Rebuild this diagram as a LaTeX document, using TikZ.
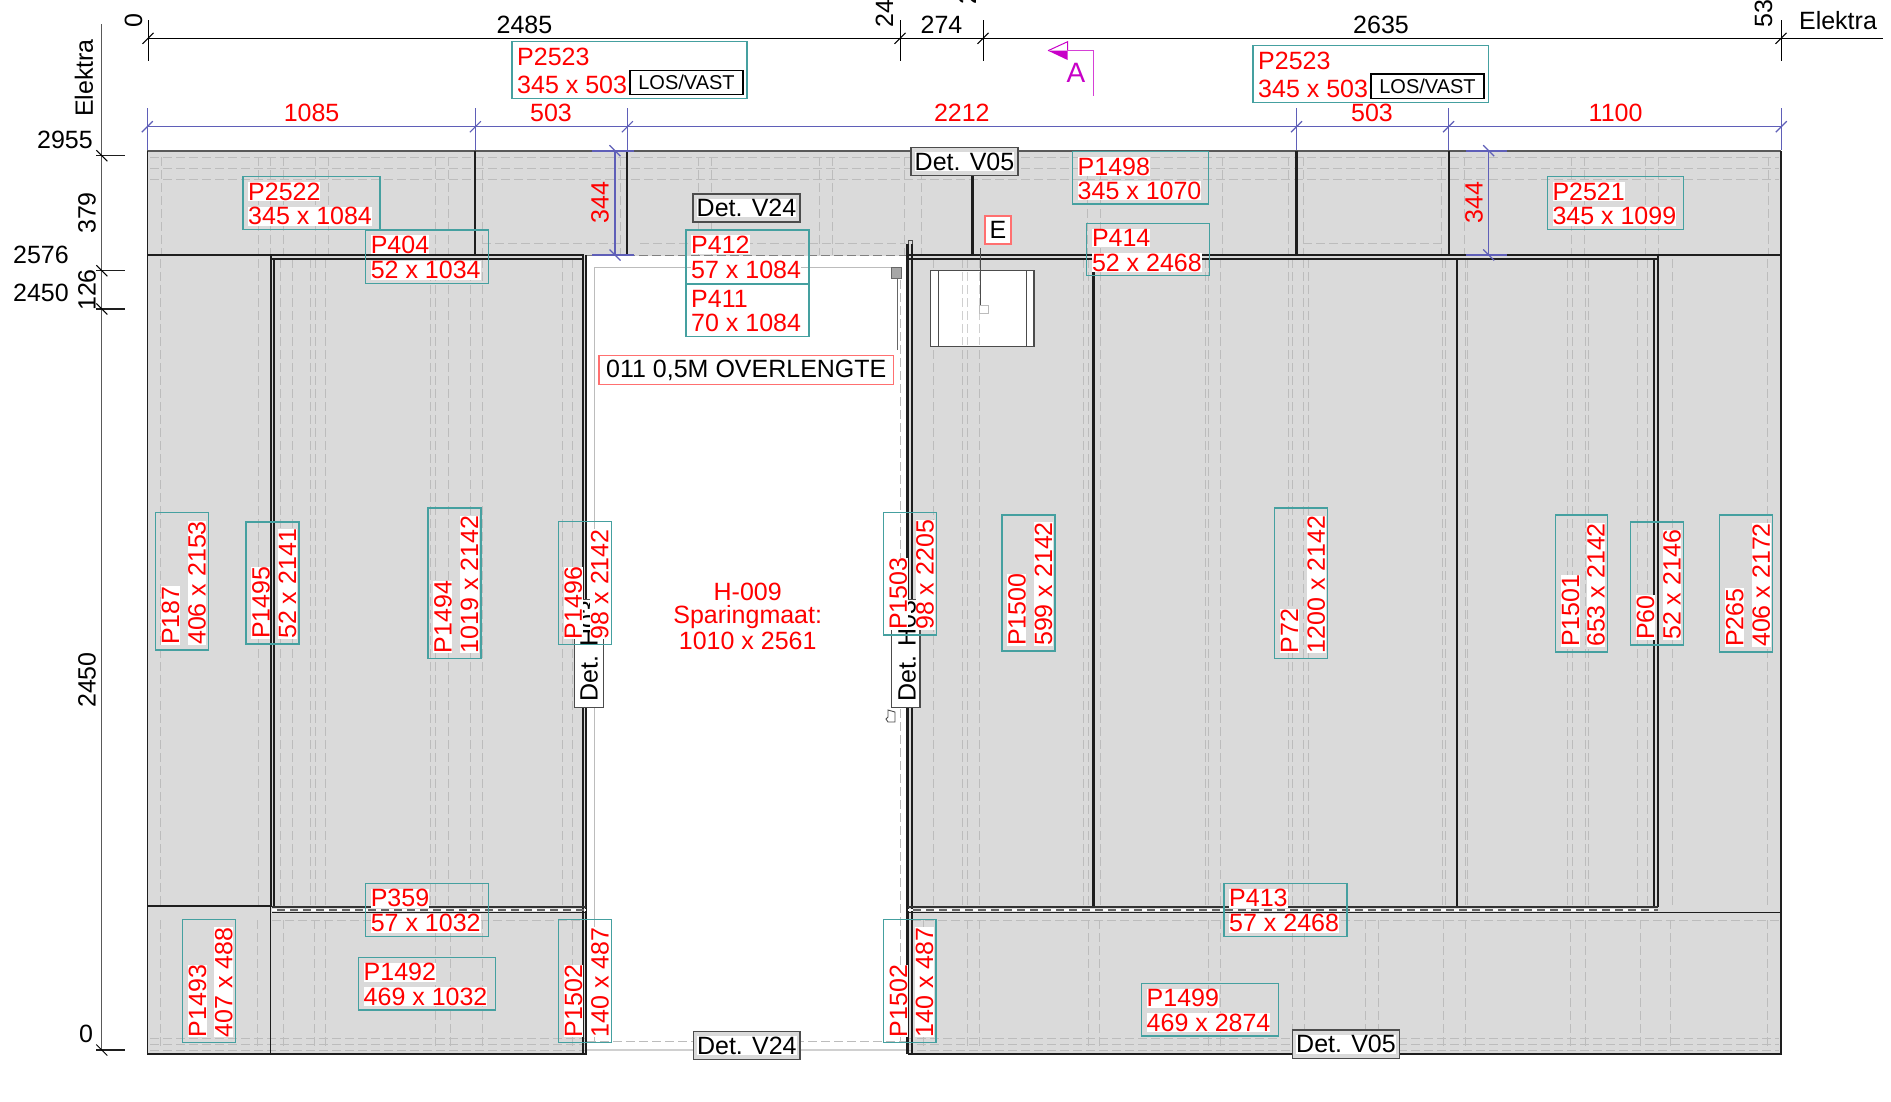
\documentclass[tikz,border=0pt]{standalone}
\usepackage{fontspec}
\usepackage{graphicx}
\setmainfont{Liberation Sans}
\definecolor{panelgrey}{HTML}{DADADA}
\definecolor{dashgrey}{HTML}{BCBCBC}
\definecolor{tealb}{HTML}{45A0A0}
\definecolor{dimblue}{HTML}{5F5FB8}
\definecolor{redb}{HTML}{FF7070}
\definecolor{inkline}{HTML}{1E1E1E}
\definecolor{magA}{HTML}{C800C8}
\tikzset{
  base font/.style={font=\fontsize{25}{27}\selectfont,inner sep=0pt},
  redtxt/.style={base font,text=red},
  redbg/.style={base font,text=red,fill=white,inner ysep=0.6pt},
  blacktxt/.style={base font,text=black},
  blackbg/.style={base font,text=black,fill=white,inner ysep=0.6pt},
  tealbox/.style={draw=tealb,line width=1.3pt},
  inkthin/.style={draw=inkline,line width=1.3pt},
  inkmid/.style={draw=inkline,line width=2.1pt},
  dimblack/.style={draw=black,line width=1pt},
  dimgrey/.style={draw=black!65,line width=1pt},
  dimb/.style={draw=dimblue,line width=1.2pt},
  dash line/.style={draw=dashgrey,line width=1pt,dash pattern=on 8.5pt off 4.5pt},
}
% name x1 y1 x2 y2 line1 line2
\newcommand{\plabH}[7]{%
  \draw[tealbox] (#2,#3) rectangle (#4,#5);
  \node[redbg,anchor=base west] (#1a) at ({#2+5},{#3+14.5+9}) {#6};
  \node[redbg,anchor=base west] (#1b) at ({#2+5},{#5-13.5+9}) {#7};
}
\newcommand{\plabV}[7]{%
  \draw[tealbox] (#2,#3) rectangle (#4,#5);
  \node[redbg,rotate=90,anchor=base west] (#1a) at ({#2+14.5+9},{#5-5}) {#6};
  \node[redbg,rotate=90,anchor=base west] (#1b) at ({#4-12+9},{#5-5}) {#7};
}
\newcommand{\detbox}[6]{%
  \draw[draw=black!70,line width=1.4pt,fill=panelgrey] (#2,#3) rectangle (#4,#5);
  \node[blackbg] (#1) at ({(#2+#4)/2},{(#3+#5)/2}) {#6};
}
\newcommand{\dimslash}[3][dimblack]{\draw[#1] ({#2-5.5},{#3+5.5}) -- ({#2+5.5},{#3-5.5});}
\newcommand{\dimback}[3][dimblack]{\draw[#1] ({#2-5.5},{#3-5.5}) -- ({#2+5.5},{#3+5.5});}
\begin{document}
\begin{tikzpicture}[x=1pt,y=-1pt]
\useasboundingbox (0,0) rectangle (1891,1101);
\clip (0,0) rectangle (1891,1101);
\fill[white] (0,0) rectangle (1891,1101);
% panel
\fill[panelgrey] (147.3,150.7) rectangle (1781,1054);
% dashed inner lines: top band
\foreach \yy in {157,168,179}{\draw[dash line] (150,\yy) -- (1779,\yy);}
\draw[dash line] (482,243) -- (620,243);
\draw[dash line] (640,243) -- (906,243);
\draw[dash line] (1303,243) -- (1442,243);
\foreach \xx in {161,258,270,283,315,328,435,448,482,620,698,711,819,832,904,921,1087,1100,1222,1288,1303,1441,1464,1571,1584,1645,1658,1768}{
  \draw[dash line] (\xx,157) -- (\xx,255);}
% body verticals
\foreach \xx in {160,258,280,292,310,315,325,430,435,448,470,482,562,572,933,962,967,979,1083,1088,1100,1205,1208,1220,1288,1292,1303,1308,1442,1445,1465,1467,1567,1572,1585,1588,1637,1647,1672,1767}{
  \draw[dash line] (\xx,259) -- (\xx,907);}
% bottom band
\foreach \xx in {160,257,283,314,325,435,450,482,572,923,967,979,1088,1099,1208,1220,1292,1304,1365,1378,1443,1465,1570,1585,1640,1670,1767}{
  \draw[dash line] (\xx,920) -- (\xx,1050);}
\draw[dash line] (272,920) -- (584,920);
\draw[dash line] (912,920) -- (1779,920);
\foreach \yy in {1038,1044,1050}{\draw[dash line] (150,\yy) -- (1779,\yy);}
% door opening
\fill[white] (587,256) rectangle (907.5,1058);
\draw[draw=dashgrey,line width=1pt] (594,267) -- (594,1041);
\draw[draw=dashgrey,line width=1pt] (594,267) -- (900,267);
\draw[dash line] (900,267) -- (900,1041);
\draw[dash line,line width=1.2pt] (587,1041.5) -- (907,1041.5);
\draw[draw=dashgrey!70,line width=1.2pt] (587,1050) -- (907,1050);
\draw[dash line,line width=1.4pt,draw=gray] (587,255.5) -- (907,255.5);
% panel outline
\draw[draw=black!65,line width=2.2pt] (147.3,150.7) -- (1781,150.7);
\draw[inkthin] (147.3,150.7) -- (147.3,1054) -- (586.5,1054);
\draw[inkthin] (908,1054) -- (1781,1054) -- (1781,150.7);
% structural lines
\draw[inkthin] (147.3,255) -- (584,255);
\draw[inkthin] (908,255) -- (1781,255);
\draw[inkmid] (270.7,255) -- (270.7,906);
\draw[inkmid] (274.3,259) -- (274.3,906);
\draw[inkmid] (270.7,259) -- (583.5,259);
\draw[inkmid] (907.5,259) -- (1658.3,259);
\draw[inkmid] (583.3,255) -- (583.3,1054);
\draw[inkmid] (586.3,255) -- (586.3,1054);
\draw[inkmid] (907.5,244) -- (907.5,1054);
\draw[inkmid] (911.7,244) -- (911.7,1054);
\draw[inkmid] (1093.5,259) -- (1093.5,907);
\draw[inkmid] (1456.7,259) -- (1456.7,907);
\draw[inkmid] (1654.3,259) -- (1654.3,907);
\draw[inkmid] (1658.3,255) -- (1658.3,907);
\foreach \xx in {475.4,627.4,972.5,1296.5,1448.6}{\draw[inkmid] (\xx,150.7) -- (\xx,255);}
\draw[inkthin] (147.3,906) -- (272,906);
\draw[inkthin] (270.5,906) -- (270.5,1054);
% bottom beams
\draw[draw=black!80,line width=2.4pt] (272,906.7) -- (586,906.7);
\draw[draw=black!80,line width=2.4pt] (908,906.7) -- (1658,906.7);
\draw[draw=black!60,line width=2.4pt] (272,909.8) -- (586,909.8);
\draw[draw=black!60,line width=2.4pt] (908,909.8) -- (1658,909.8);
\draw[draw=white,line width=1.4pt,dash pattern=on 5pt off 8pt] (272,910) -- (586,910);
\draw[draw=white,line width=1.4pt,dash pattern=on 5pt off 8pt] (908,910) -- (1658,910);
\draw[inkthin] (272,912.4) -- (586,912.4);
\draw[inkthin] (908,912.4) -- (1781,912.4);
% window
\draw[draw=black!70,line width=1.3pt,fill=white] (930.5,270.7) rectangle (1034,346.7);
\draw[draw=black!70,line width=1.3pt] (938.6,270.7) -- (938.6,346.7);
\draw[draw=black!70,line width=1.3pt] (1026.5,270.7) -- (1026.5,346.7);
\foreach \xx in {962,967,979}{\draw[dash line,draw=dashgrey!70] (\xx,272) -- (\xx,345);}
\draw[draw=black!70,line width=1.2pt] (980.5,248) -- (980.5,305);
\draw[draw=dashgrey,line width=0.9pt] (979,305) rectangle (988,313);
% small door details
\draw[draw=black!60,fill=gray!70,line width=0.6pt] (891,267) rectangle (901.5,278);
\draw[draw=black!60,line width=1pt] (897,278) -- (897,350);
\draw[draw=black!70,line width=0.9pt] (908,244) -- (908,240) -- (912,240) -- (912,244);
\draw[draw=black!70,line width=0.9pt,fill=white] (888,710) -- (895,712) -- (895,722) -- (888,722) -- (886,719) -- (888,717) -- cycle;
% dimension lines: top
\draw[dimblack] (148,38.3) -- (1883,38.3);
\foreach \xx in {148,900,983,1781}{
  \draw[dimblack] (\xx,20) -- (\xx,60.7);
  \dimslash{\xx}{38.3}
}
\node[blacktxt,rotate=90,anchor=base west] (d0) at (142,28) {0};
\node[blacktxt,rotate=90,anchor=base west] (d2485r) at (893,28) {2485};
\node[blacktxt,rotate=90,anchor=base west] (d2759) at (976,4.5) {2759};
\node[blacktxt,rotate=90,anchor=base west] (d5394) at (1772,28) {5394};
\node[blacktxt] (d2485) at (524.5,25) {2485};
\node[blacktxt] (d274) at (941.5,25) {274};
\node[blacktxt] (d2635) at (1381,25) {2635};
\node[blacktxt,anchor=base] (elekR) at (1838,29) {Elektra};
\node[blacktxt,rotate=90] (elekL) at (84,78) {Elektra};
% left dimension
\draw[dimgrey,line width=1.3pt] (101.8,24) -- (101.8,1050);
\foreach \yy in {155.7,270.7,309,1050}{
  \draw[inkthin] (96,\yy) -- (125,\yy);
  \dimback{101.8}{\yy}
}
\node[blacktxt,anchor=east] (l2955) at (93,140) {2955};
\node[blacktxt,rotate=90] (l379) at (87,213) {379};
\node[blacktxt,anchor=east] (l2576) at (69,255) {2576};
\node[blacktxt,rotate=90] (l126) at (87,290) {126};
\node[blacktxt,anchor=east] (l2450) at (69,292.7) {2450};
\node[blacktxt,rotate=90] (l2450b) at (87,680) {2450};
\node[blacktxt] (l0) at (86,1034) {0};
% blue dimension
\draw[dimb] (147.3,126.7) -- (1781,126.7);
\foreach \xx in {147.3,475.4,627.4,1296.5,1448.6,1781.3}{
  \draw[dimb] (\xx,108) -- (\xx,150);
  \dimslash[dimb]{\xx}{126.7}
}
\node[redtxt] (b1085) at (311.6,112.7) {1085};
\node[redtxt] (b503a) at (551,112.7) {503};
\node[redtxt] (b2212) at (961.8,112.7) {2212};
\node[redtxt] (b503b) at (1372,112.7) {503};
\node[redtxt] (b1100) at (1615.6,112.7) {1100};
% 344 dims
\foreach \xx/\aa/\bb in {615/592/634,1488.7/1466/1507}{
  \draw[dimb] (\xx,150.7) -- (\xx,255);
  \draw[dimb,line width=1.6pt] (\aa,150.7) -- (\bb,150.7);
  \draw[dimb,line width=1.6pt] (\aa,255) -- (\bb,255);
  \dimback[dimb]{\xx}{150.7}
  \dimback[dimb]{\xx}{255}
}
\node[redtxt,rotate=90] (h344a) at (600,202.7) {344};
\node[redtxt,rotate=90] (h344b) at (1474,202.7) {344};
% section mark A
\draw[draw=magA!75,line width=1.1pt] (1067.6,50.7) -- (1093.5,50.7) -- (1093.5,95.7);
\draw[draw=magA,line width=1pt] (1048,50.7) -- (1067.6,41.7) -- (1067.6,50.7);
\fill[magA] (1048,50.7) -- (1067.6,60) -- (1067.6,50.7) -- cycle;
\node[font=\fontsize{28}{30}\selectfont,inner sep=0pt,text=magA] (secA) at (1076,73.3) {A};
% detail boxes
\detbox{dV24t}{693}{194}{800}{222}{Det. V24}
\detbox{dV05t}{911}{147.7}{1018}{175.7}{Det. V05}
\detbox{dV24b}{693.7}{1031.7}{800}{1059.3}{Det. V24}
\detbox{dV05b}{1292.4}{1030}{1399.6}{1058.3}{Det. V05}
% Det. H boxes
\draw[draw=black!70,line width=1.2pt,fill=white] (574.3,599.3) rectangle (603.3,707.7);
\node[blacktxt,rotate=90,anchor=base west] (dH1) at (597.5,702) {Det. H03};
\draw[draw=black!70,line width=1.2pt,fill=white] (891.7,599.3) rectangle (920,707.7);
\node[blacktxt,rotate=90,anchor=base west] (dH2) at (915.7,702) {Det. H03};
% red framed notes
\draw[draw=redb,line width=1.3pt,fill=white] (985,216) rectangle (1011,244);
\node[blacktxt] (noteE) at (998,230) {E};
\draw[draw=redb,line width=1.3pt,fill=white] (599,355.7) rectangle (893.5,384.3);
\node[blacktxt] (note011) at (746.3,370) {011 0,5M OVERLENGTE};
% opening label
\node[redtxt] (hA) at (747.7,591.7) {H-009};
\node[redtxt] (hB) at (747.7,616.7) {Sparingmaat:};
\node[redtxt] (hC) at (747.7,641) {1010 x 2561};
% horizontal P labels
\plabH{Pa}{512}{41.7}{747}{98.3}{P2523}{345 x 503}
\plabH{Pb}{1253}{45.7}{1488.7}{102.3}{P2523}{345 x 503}
\plabH{Pc}{243}{176.7}{380}{229.3}{P2522}{345 x 1084}
\plabH{Pd}{365.6}{230}{488.4}{283.3}{P404}{52 x 1034}
\plabH{Pe}{686}{230}{809}{283.3}{P412}{57 x 1084}
\plabH{Pf}{686}{284.3}{809}{336.3}{P411}{70 x 1084}
\plabH{Pg}{1072.5}{151.7}{1208.6}{204}{P1498}{345 x 1070}
\plabH{Ph}{1086.8}{223.3}{1209.6}{275.7}{P414}{52 x 2468}
\plabH{Pi}{1547.3}{176.7}{1683.5}{229.3}{P2521}{345 x 1099}
\plabH{Pj}{365.6}{883.3}{488.4}{936.3}{P359}{57 x 1032}
\plabH{Pk}{358.5}{957.3}{495.5}{1010}{P1492}{469 x 1032}
\plabH{Pl}{1224}{883.3}{1347}{936.3}{P413}{57 x 2468}
\plabH{Pm}{1141.5}{983.3}{1278.6}{1036}{P1499}{469 x 2874}
% LOS/VAST
\node[draw=black,line width=1.1pt,fill=white,font=\fontsize{20}{22}\selectfont,inner sep=0pt,minimum width=113pt,minimum height=24.3pt] (lvA) at (686.5,82.2) {LOS/VAST};
\node[draw=black,line width=1.1pt,fill=white,font=\fontsize{20}{22}\selectfont,inner sep=0pt,minimum width=113pt,minimum height=24.7pt] (lvB) at (1427.5,86.3) {LOS/VAST};
% vertical P labels
\plabV{Va}{155.6}{512.5}{208.6}{650}{P187}{406 x 2153}
\plabV{Vb}{246}{522}{299}{644}{P1495}{52 x 2141}
\plabV{Vc}{428}{508}{481}{658.5}{P1494}{1019 x 2142}
\plabV{Vd}{558.3}{521.7}{611.3}{644.3}{P1496}{98 x 2142}
\plabV{Ve}{883.3}{512.3}{936.7}{635}{P1503}{98 x 2205}
\plabV{Vf}{1002}{515}{1055}{651}{P1500}{599 x 2142}
\plabV{Vg}{1274.7}{508}{1327.8}{658.5}{P72}{1200 x 2142}
\plabV{Vh}{1555.7}{515}{1607.6}{652}{P1501}{653 x 2142}
\plabV{Vi}{1630.5}{522}{1683.6}{645}{P60}{52 x 2146}
\plabV{Vj}{1719.8}{515}{1772.8}{652}{P265}{406 x 2172}
\plabV{Vk}{182.6}{919.3}{235.3}{1042.3}{P1493}{407 x 488}
\plabV{Vl}{558.5}{919.3}{611.6}{1042.3}{P1502}{140 x 487}
\plabV{Vm}{883.5}{919.3}{936}{1042.3}{P1502}{140 x 487}
\end{tikzpicture}
\end{document}
